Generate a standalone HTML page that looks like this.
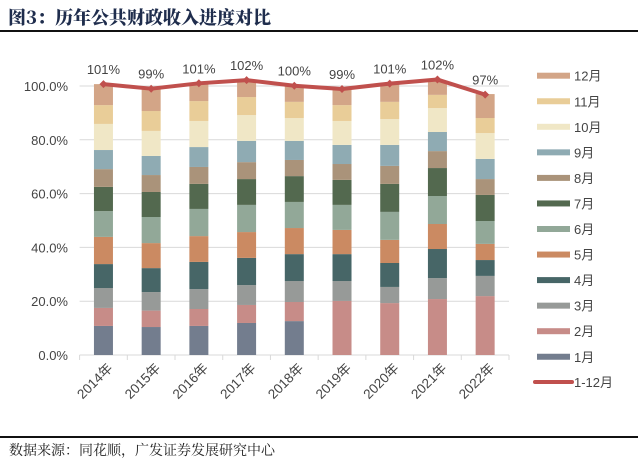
<!DOCTYPE html>
<html><head><meta charset="utf-8"><style>
body{margin:0;background:#fff;width:638px;height:473px;overflow:hidden;font-family:"Liberation Sans","Noto Sans CJK SC",sans-serif}
#title{position:absolute;left:8px;top:4px;font-family:"Noto Serif CJK SC","Liberation Serif",serif;font-weight:900;font-size:18px;color:#1f2d4d}
#tline{position:absolute;left:0;top:30px;width:638px;height:2px;background:#111}
#bline{position:absolute;left:0;top:436px;width:638px;height:2px;background:#111}
#src{position:absolute;left:9px;top:440px;font-size:14px;color:#222;font-family:"Noto Serif CJK SC",serif}
svg{position:absolute;left:0;top:0}
</style></head><body>
<div id="title">图3：历年公共财政收入进度对比</div>
<div id="tline"></div>
<svg id="chart" width="638" height="473"></svg>
<div id="bline"></div>
<div id="src">数据来源：同花顺，广发证券发展研究中心</div>
<script>
const years=["2014年","2015年","2016年","2017年","2018年","2019年","2020年","2021年","2022年"];
const months=["1月","2月","3月","4月","5月","6月","7月","8月","9月","10月","11月","12月"];
const m1=[10.8,10.4,10.8,11.9,12.6,0,0,0,0];
const m2=[6.7,6.1,6.3,6.7,7.1,20.1,19.3,20.8,21.9];
const m3=[7.4,6.9,7.4,7.4,7.8,7.4,6.0,7.8,7.5];
const m4=[8.9,8.9,10.1,10.1,10.0,10.0,8.9,10.8,5.9];
const m5=[10.1,9.3,9.6,9.6,9.7,9.0,8.6,9.3,6.0];
const m6=[9.6,9.7,10.1,10.1,9.7,9.3,10.4,10.4,8.5];
const m7=[9.0,9.3,9.3,9.6,9.6,9.3,10.4,10.4,9.7];
const m8=[6.6,6.3,6.3,6.3,6.0,5.9,6.7,6.3,5.9];
const m9=[7.1,7.1,7.4,7.9,7.1,7.1,7.8,7.1,7.5];
const m10=[9.7,9.3,9.7,9.6,8.5,8.9,9.6,8.9,9.6];
const m11=[7.0,7.4,7.4,6.7,6.0,5.9,6.4,4.9,5.6];
const m12=[7.8,8.3,6.6,6.1,5.9,6.1,6.9,5.3,8.9];
const total=[100.7,99.0,101.0,102.2,100.1,98.9,100.9,102.4,96.8];
const totalLabels=["101%","99%","101%","102%","100%","99%","101%","102%","97%"];
const yTicks=[0,20,40,60,80,100];
const colors=["#737d8e","#c78c88","#979a98","#476667","#cb8a62","#92a898","#53694f","#aa937a","#8fabb3","#f0e7c6","#e9cd98","#d3a587"];
const series=[m1,m2,m3,m4,m5,m6,m7,m8,m9,m10,m11,m12];
const svg=document.getElementById('chart');const NS="http://www.w3.org/2000/svg";
function mk(t,a,p){const e=document.createElementNS(NS,t);for(const k in a)e.setAttribute(k,a[k]);(p||svg).appendChild(e);return e;}
const x0=79.6,x1=509,y0=355,ppu=2.69;
const step=(x1-x0)/years.length;
const X=i=>x0+step*(i+0.5), Y=v=>y0-v*ppu;
yTicks.forEach(t=>{
 const g=mk('line',{x1:x0,x2:x1,y1:Y(t),y2:Y(t),stroke:'#d9d9d9','stroke-width':1});
 
 
 const l=mk('text',{x:68,y:Y(t)+5,'text-anchor':'end','font-size':13,fill:'#444'});
 l.textContent=t.toFixed(1)+'%';
 
 
});
for(let i=0;i<=years.length;i++){const tk=mk('line',{x1:x0+step*i,x2:x0+step*i,y1:y0,y2:y0+5,stroke:'#d9d9d9'});
 
 }
years.forEach((yr,i)=>{
 let c=0;
 series.forEach((s,k)=>{
  if(s[i]>0){const r=mk('rect',{x:X(i)-9.5,y:Y(c+s[i]),width:19,height:s[i]*ppu,fill:colors[k]});
  
  }
  c+=s[i];
 });
 const t=mk('text',{x:0,y:0,'text-anchor':'end','font-size':13.5,fill:'#444',transform:`translate(${X(i)+10},${y0+14}) rotate(-45)`});
 t.textContent=yr;
 
 
});
const pl=mk('polyline',{points:total.map((v,i)=>X(i)+','+Y(v)).join(' '),fill:'none',stroke:'#c0504d','stroke-width':4,'stroke-linejoin':'round'});


total.forEach((v,i)=>{
 const d=mk('path',{d:`M${X(i)-4},${Y(v)} L${X(i)},${Y(v)-4} L${X(i)+4},${Y(v)} L${X(i)},${Y(v)+4}Z`,fill:'#c0504d'});
 
 
 const t=mk('text',{x:X(i),y:Y(v)-10,'text-anchor':'middle','font-size':13,fill:'#444'});
 t.textContent=totalLabels[i];
 
 
});
for(let k=11;k>=0;k--){
 const yy=75.7+(11-k)*25.55;
 const r=mk('rect',{x:537,y:yy-3,width:33,height:6,fill:colors[k]});
 
 
 const t=mk('text',{x:574,y:yy+5,'font-size':13,fill:'#444'});
 t.textContent=months[k];
 
 
}
const ll=mk('line',{x1:535,x2:572,y1:382,y2:382,stroke:'#c0504d','stroke-width':4,'stroke-linecap':'round'});


const lt=mk('text',{x:574,y:387,'font-size':13,fill:'#444'});
lt.textContent='1-12月';


</script>
</body></html>
